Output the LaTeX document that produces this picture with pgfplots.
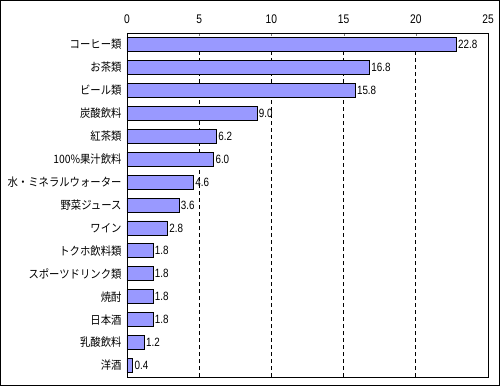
\documentclass[border=0pt]{standalone}
\usepackage{pgfplots}
\pgfplotsset{compat=1.18}
\usepackage{fontspec}
\setmainfont{Liberation Sans}
\newfontfamily\num[FakeStretch=0.82]{Liberation Sans}
\newfontfamily\jp[FakeStretch=0.9]{Noto Sans CJK JP}
\definecolor{barfill}{HTML}{9999FF}
\begin{document}
\begin{tikzpicture}
\useasboundingbox (0pt,0pt) rectangle (500pt,386pt);
\draw[black,line width=1pt] (0.5pt,0.5pt) rectangle (499.5pt,385.5pt);
\begin{axis}[
  at={(127pt,9pt)}, anchor=south west,
  scale only axis, width=361pt, height=344pt,
  xbar, bar width=14pt,
  xmin=0, xmax=25,
  ymin=-0.5, ymax=14.5,
  xtick={0,5,...,25},
  xticklabel pos=upper, xtick pos=upper,
  major tick length=3pt,
  xmajorgrids, grid style={black, dash pattern=on 4pt off 3pt, line width=0.8pt},
  ytick={0,...,14},
  yticklabels={洋酒,乳酸飲料,日本酒,焼酎,スポーツドリンク類,トクホ飲料類,ワイン,野菜ジュース,水・ミネラルウォーター,100\%果汁飲料,紅茶類,炭酸飲料,ビール類,お茶類,コーヒー類},
  yticklabel style={font=\jp\fontsize{11.5}{13}\selectfont, xshift=-2pt},
  y tick style={draw=none},
  minor ytick={0.5,1.5,...,13.5},
  minor tick length=4pt,
  minor y tick style={black, line width=0.8pt},
  ytick pos=left,
  tick align=inside,
  axis line style={black, line width=0.8pt},
  xticklabel style={font=\num\fontsize{12.5}{14}\selectfont, yshift=6pt},
  /pgf/number format/assume math mode=true,
  nodes near coords,
  nodes near coords style={font=\num\fontsize{12}{14}\selectfont, anchor=west, inner sep=1.5pt,
    /pgf/number format/.cd, fixed, fixed zerofill, precision=1},
  clip=false,
]
\addplot[fill=barfill, draw=black, line width=0.8pt] coordinates {
(22.8,14) (16.8,13) (15.8,12) (9.0,11) (6.2,10) (6.0,9) (4.6,8) (3.6,7) (2.8,6) (1.8,5) (1.8,4) (1.8,3) (1.8,2) (1.2,1) (0.4,0)
};
\end{axis}
\end{tikzpicture}
\end{document}
